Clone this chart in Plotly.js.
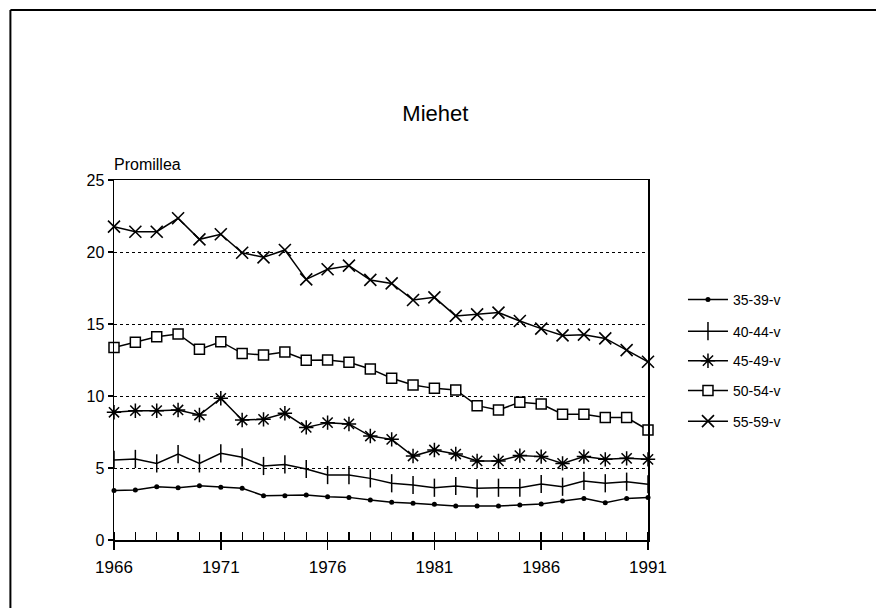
<!DOCTYPE html>
<html>
<head>
<meta charset="utf-8">
<script src="https://cdn.plot.ly/plotly-3.0.1.min.js"></script>
<style>html,body{margin:0;padding:0;background:#fff;}#chart{width:876px;height:608px;}</style>
</head>
<body>
<div id="chart"></div>
<script>
const years = [1966,1967,1968,1969,1970,1971,1972,1973,1974,1975,1976,1977,1978,1979,1980,1981,1982,1983,1984,1985,1986,1987,1988,1989,1990,1991];
const seriesNames = ["35-39-v","40-44-v","45-49-v","50-54-v","55-59-v"];
const v35 = [3.43,3.47,3.70,3.63,3.77,3.66,3.59,3.08,3.08,3.13,3.01,2.96,2.78,2.62,2.55,2.48,2.36,2.36,2.36,2.43,2.50,2.71,2.89,2.59,2.89,2.96];
const v40 = [5.56,5.63,5.32,5.97,5.32,6.02,5.74,5.14,5.25,4.93,4.51,4.51,4.28,3.94,3.82,3.63,3.75,3.59,3.63,3.63,3.89,3.70,4.10,3.94,4.05,3.87];
const v45 = [8.87,8.98,8.98,9.03,8.68,9.84,8.33,8.38,8.80,7.82,8.15,8.06,7.22,6.99,5.83,6.25,5.97,5.49,5.49,5.86,5.79,5.32,5.79,5.60,5.67,5.60];
const v50 = [13.36,13.73,14.12,14.31,13.24,13.77,12.96,12.85,13.06,12.48,12.50,12.34,11.88,11.23,10.76,10.53,10.42,9.33,9.03,9.56,9.44,8.73,8.73,8.50,8.50,7.64];
const v55 = [21.76,21.41,21.41,22.34,20.88,21.23,19.95,19.63,20.14,18.10,18.80,19.05,18.06,17.82,16.67,16.85,15.56,15.67,15.79,15.21,14.68,14.21,14.26,14.00,13.19,12.38];
const yTickVals = [0,5,10,15,20,25];
const xTickVals = [1966,1971,1976,1981,1986,1991];

const FONT = "Liberation Sans, Arial, Helvetica, sans-serif";
const values = [v35, v40, v45, v50, v55];
const markers = [
  {symbol:"circle", size:5, color:"#000", line:{width:0}},
  {symbol:"line-ns-open", size:13, color:"#000", line:{width:1.5, color:"#000"}},
  {symbol:"asterisk-open", size:12, color:"#000", line:{width:1.5, color:"#000"}},
  {symbol:"square", size:10, color:"#fff", line:{width:1.5, color:"#000"}},
  {symbol:"x-thin-open", size:12, color:"#000", line:{width:1.6, color:"#000"}}
];
const legendNames = ["legend","legend2","legend3","legend4","legend5"];
const legendY = [0.667, 0.579, 0.497, 0.414, 0.329];

const traces = values.map((v,i)=>({
  x: years, y: v, name: seriesNames[i], type:"scatter", mode:"lines+markers",
  line:{color:"#000", width:1.5}, marker: markers[i], cliponaxis:false,
  legend: legendNames[i]
}));

const layout = {
  width:876, height:608,
  margin:{l:114, r:228, t:180, b:68},
  paper_bgcolor:"#fff", plot_bgcolor:"#fff",
  font:{family:FONT, color:"#000", size:16},
  title:{text:"Miehet", font:{family:FONT, size:22, color:"#000"}, xref:"container", x:0.497, xanchor:"center", yref:"container", y:0.814, yanchor:"middle"},
  showlegend:true,
  xaxis:{range:[1966,1991], tickvals:xTickVals, ticks:"outside", ticklen:8, tickwidth:1.5, tickcolor:"#000",
    minor:{dtick:1, ticks:"inside", ticklen:8, tickwidth:1.2, tickcolor:"#000", showgrid:false},
    showline:true, linecolor:"#000", linewidth:1.5, mirror:true, showgrid:false, zeroline:false,
    tickfont:{size:17, family:FONT}, ticklabelstandoff:3},
  xaxis2:{range:[1966,1991], overlaying:"x", anchor:"y", side:"bottom", tickvals:xTickVals, ticks:"inside", ticklen:8, tickwidth:1.5, tickcolor:"#000", showticklabels:false, showgrid:false, zeroline:false, showline:false},
  yaxis:{range:[0,25], tickvals:yTickVals, ticks:"outside", ticklen:5, tickwidth:1.5, tickcolor:"#000",
    showline:true, linecolor:"#000", linewidth:1.5, mirror:true, showgrid:true, gridcolor:"#000", gridwidth:1, griddash:"dot", zeroline:false,
    tickfont:{size:16, family:FONT}},
  annotations:[{text:"Promillea", xref:"paper", yref:"paper", x:-0.004, y:1.044, xanchor:"left", yanchor:"middle", showarrow:false, font:{size:16, family:FONT, color:"#000"}}],
  shapes:[
    {type:"line", xref:"paper", yref:"paper", x0:-0.194, x1:1.427, y0:1.4725, y1:1.4725, line:{color:"#000", width:2}},
    {type:"line", xref:"paper", yref:"paper", x0:-0.194, x1:-0.194, y0:1.4725, y1:-0.2, line:{color:"#000", width:2}}
  ]
};
legendNames.forEach((ln,i)=>{
  layout[ln] = {x:1.0655, xanchor:"left", y:legendY[i], yanchor:"middle", bgcolor:"rgba(0,0,0,0)", borderwidth:0,
    itemwidth:40, font:{size:14, family:FONT, color:"#000"}};
});
// helper trace so that the overlaid tick axis is drawn
traces.push({x:[1966], y:[null], xaxis:"x2", yaxis:"y", showlegend:false, hoverinfo:"skip", mode:"markers"});
Plotly.newPlot("chart", traces, layout, {displayModeBar:false, staticPlot:true});
</script>
</body>
</html>
